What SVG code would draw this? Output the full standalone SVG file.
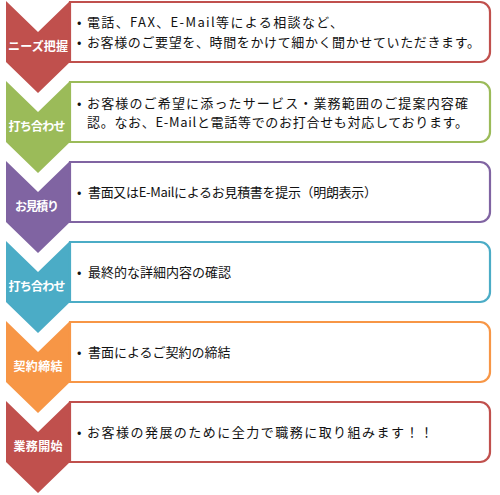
<svg xmlns="http://www.w3.org/2000/svg" width="500" height="495" viewBox="0 0 500 495">
<defs>
<style>
.lbl{font-family:"Noto Sans CJK JP","Noto Sans",sans-serif;font-size:12px;font-weight:bold;fill:#fff;text-anchor:middle}
.t{font-family:"Noto Sans CJK JP","Noto Sans",sans-serif;font-size:13px;fill:#111}
.box{fill:#fff;stroke-width:2.2}
</style>
<path id="chev" d="M0,0 L32,31 L64,0 L64,61 L32,92 L0,61 Z"/>
<path id="bx" d="M70,0 H480 A10,10 0 0 1 490,10 V50 A10,10 0 0 1 480,60 H70 Z"/>
</defs>
<rect width="500" height="495" fill="#fff"/>
<g id="step1">
<use href="#chev" x="6" y="1" fill="#C0504D"/>
<use href="#bx" x="0" y="2" class="box" stroke="#C0504D"/>
<text class="lbl" x="38" y="51" textLength="60">ニーズ把握</text>
<text class="t" x="77" y="27">•</text><text class="t" x="87" y="27" textLength="256">電話、FAX、E-Mail等による相談など、</text>
<text class="t" x="77" y="47">•</text><text class="t" x="87" y="47" textLength="393">お客様のご要望を、時間をかけて細かく聞かせていただきます。</text>
</g>
<g id="step2">
<use href="#chev" x="6" y="81" fill="#9BBB59"/>
<use href="#bx" x="0" y="82" class="box" stroke="#9BBB59"/>
<text class="lbl" x="37" y="131" textLength="57">打ち合わせ</text>
<text class="t" x="77" y="108">•</text><text class="t" x="87" y="108" textLength="381">お客様のご希望に添ったサービス・業務範囲のご提案内容確</text>
<text class="t" x="87" y="127" textLength="381">認。なお、E-Mailと電話等でのお打合せも対応しております。</text>
</g>
<g id="step3">
<use href="#chev" x="6" y="161" fill="#8064A2"/>
<use href="#bx" x="0" y="162" class="box" stroke="#8064A2"/>
<text class="lbl" x="37" y="211" textLength="44">お見積り</text>
<text class="t" x="77" y="197">•</text><text class="t" x="88" y="197" textLength="289">書面又はE-Mailによるお見積書を提示（明朗表示）</text>
</g>
<g id="step4">
<use href="#chev" x="6" y="241" fill="#4BACC6"/>
<use href="#bx" x="0" y="242" class="box" stroke="#4BACC6"/>
<text class="lbl" x="37" y="291" textLength="57">打ち合わせ</text>
<text class="t" x="77" y="277">•</text><text class="t" x="88" y="277">最終的な詳細内容の確認</text>
</g>
<g id="step5">
<use href="#chev" x="6" y="321" fill="#F79646"/>
<use href="#bx" x="0" y="322" class="box" stroke="#F79646"/>
<text class="lbl" x="38" y="371" textLength="49">契約締結</text>
<text class="t" x="77" y="357">•</text><text class="t" x="88" y="357">書面によるご契約の締結</text>
</g>
<g id="step6">
<use href="#chev" x="6" y="401" fill="#C0504D"/>
<use href="#bx" x="0" y="402" class="box" stroke="#C0504D"/>
<text class="lbl" x="38" y="451" textLength="49">業務開始</text>
<text class="t" x="77" y="437">•</text><text class="t" x="87" y="437" textLength="346">お客様の発展のために全力で職務に取り組みます！！</text>
</g>
<g id="connectors"/>
</svg>
